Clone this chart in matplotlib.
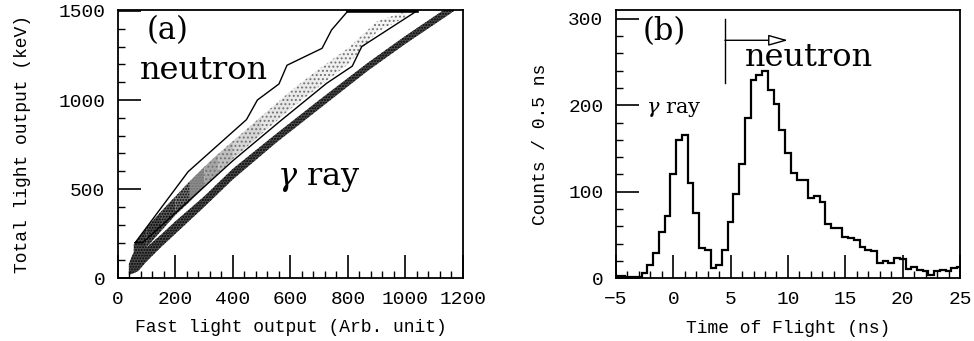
import numpy as np
import matplotlib
matplotlib.use('Agg')
import matplotlib.pyplot as plt
from matplotlib.ticker import MultipleLocator

plt.rcParams['font.family'] = ['Liberation Mono', 'DejaVu Sans Mono']
plt.rcParams['axes.unicode_minus'] = True
plt.rcParams['mathtext.fontset'] = 'dejavuserif'

# ---- panel (a): pulse shape discrimination ----
# neutron cut polygon (fast, total)
cut_x = [60, 244, 447, 485, 560, 588, 710, 743, 800, 1040, 848, 815, 726, 563, 400, 86, 60]
cut_y = [200, 598, 890, 1000, 1090, 1195, 1290, 1393, 1500, 1500, 1300, 1190, 1094, 880, 660, 200, 200]

# gamma-ray band edges
gam_x = [38, 50, 70, 100, 150, 200, 300, 400, 550, 700, 870, 1000, 1170]
gam_lo = [20, 25, 40, 95, 175, 250, 400, 555, 760, 950, 1165, 1315, 1500]
gam_hi = [80, 130, 190, 175, 245, 320, 460, 615, 810, 1000, 1210, 1360, 1545]

# neutron band edges, and how dark each stretch of it looks
neu_x = [55, 100, 150, 200, 250, 300, 350, 400, 500, 600, 700, 800, 900, 1000]
neu_lo = [60, 175, 265, 355, 430, 510, 590, 670, 810, 950, 1075, 1200, 1380, 1465]
neu_hi = [190, 285, 375, 460, 545, 625, 700, 770, 910, 1050, 1175, 1290, 1440, 1498]
neu_shade = [0.3, 0.3, 0.35, 0.45, 0.55, 0.65, 0.75, 0.84, 0.9, 0.92, 0.94, 0.95, 0.96]

# ---- panel (b): TOF spectrum, 0.5 ns bins ----
tof_centers = np.arange(-5, 25.01, 0.5)
tof_counts = [3, 3, 2, 1, 1, 6, 15, 29, 54, 72,
              121, 160, 166, 110, 75, 35, 33, 12, 15, 33,
              65, 97, 132, 185, 229, 235, 240, 217, 201, 171,
              145, 122, 113, 113, 93, 95, 88, 63, 58, 58,
              48, 46, 44, 36, 33, 31, 18, 20, 18, 24,
              22, 11, 13, 10, 9, 4, 8, 10, 8, 12,
              13]
gate_t = 4.5
gate_y = (226, 300)
arrow_y = 275
arrow_end = 10.0

fig = plt.figure(figsize=(9.74, 3.41), dpi=100)
ax1 = fig.add_axes([0.1211, 0.1839, 0.3542, 0.7868])
ax2 = fig.add_axes([0.6324, 0.1839, 0.3532, 0.7868])

gx = np.array(gam_x)
nx = np.array(neu_x)
with plt.rc_context({'hatch.color': 'black', 'hatch.linewidth': 1.0}):
    ax1.fill_between(gx, gam_lo, gam_hi, facecolor='0.3', edgecolor='none',
                     hatch='......', linewidth=0)
for i, shade in enumerate(neu_shade):
    hc = 'black' if shade < 0.5 else '0.45'
    with plt.rc_context({'hatch.color': hc, 'hatch.linewidth': 0.9}):
        ax1.fill_between(nx[i:i + 2], neu_lo[i:i + 2], neu_hi[i:i + 2],
                         facecolor=str(shade), edgecolor='none',
                         hatch='......' if shade < 0.6 else '....', linewidth=0)
ax1.plot(cut_x, cut_y, color='black', lw=1.0)
top = [i for i in range(len(cut_y) - 1) if cut_y[i] == cut_y[i + 1] == max(cut_y)]
for i in top:
    ax1.plot(cut_x[i:i + 2], cut_y[i:i + 2], color='black', lw=2.6)

ax1.set_xlim(0, 1200)
ax1.set_ylim(0, 1505)
ax1.xaxis.set_major_locator(MultipleLocator(200))
ax1.xaxis.set_minor_locator(MultipleLocator(40))
ax1.yaxis.set_major_locator(MultipleLocator(500))
ax1.yaxis.set_minor_locator(MultipleLocator(100))
ax1.set_xlabel('Fast light output (Arb. unit)', fontsize=13, labelpad=8)
ax1.set_ylabel('Total light output (keV)', fontsize=13, labelpad=20)
ax1.text(100, 1388, '(a)', family='DejaVu Serif', fontsize=22, va='center')
ax1.text(76, 1117, 'neutron', family='DejaVu Serif', fontsize=23, va='baseline')
ax1.text(553, 524, r'$\gamma$ ray', family='DejaVu Serif', fontsize=23, va='baseline')

edges = np.append(tof_centers - 0.25, tof_centers[-1] + 0.25)
ax2.stairs(tof_counts, edges, color='black', lw=1.6, baseline=None)
ax2.set_xlim(-5, 25)
ax2.set_ylim(0, 310)
ax2.xaxis.set_major_locator(MultipleLocator(5))
ax2.xaxis.set_minor_locator(MultipleLocator(1))
ax2.yaxis.set_major_locator(MultipleLocator(100))
ax2.yaxis.set_minor_locator(MultipleLocator(20))
ax2.set_xlabel('Time of Flight (ns)', fontsize=13, labelpad=9)
ax2.set_ylabel('Counts / 0.5 ns', fontsize=13, labelpad=14)
ax2.plot([gate_t, gate_t], gate_y, color='black', lw=1.0)
ax2.annotate('', xy=(arrow_end, arrow_y), xytext=(gate_t, arrow_y),
             arrowprops=dict(arrowstyle='-|>,head_length=0.6,head_width=0.17',
                             mutation_scale=20, fc='white', ec='black', lw=1.0,
                             shrinkA=0, shrinkB=0))
ax2.text(-2.65, 285, '(b)', family='DejaVu Serif', fontsize=22, va='center')
ax2.text(6.25, 245, 'neutron', family='DejaVu Serif', fontsize=23, va='baseline')
ax2.text(-2.4, 191, r'$\gamma$ ray', family='DejaVu Serif', fontsize=15, va='baseline')

for ax in (ax1, ax2):
    for s in ax.spines.values():
        s.set_linewidth(1.3)
    ax.tick_params(which='both', direction='in', top=False, right=False, colors='black')
    ax.tick_params(which='major', length=16.5, width=1.2, labelsize=14, pad=9)
    ax.tick_params(which='minor', length=5, width=1.0)

fig.savefig('out.png', dpi=100)
